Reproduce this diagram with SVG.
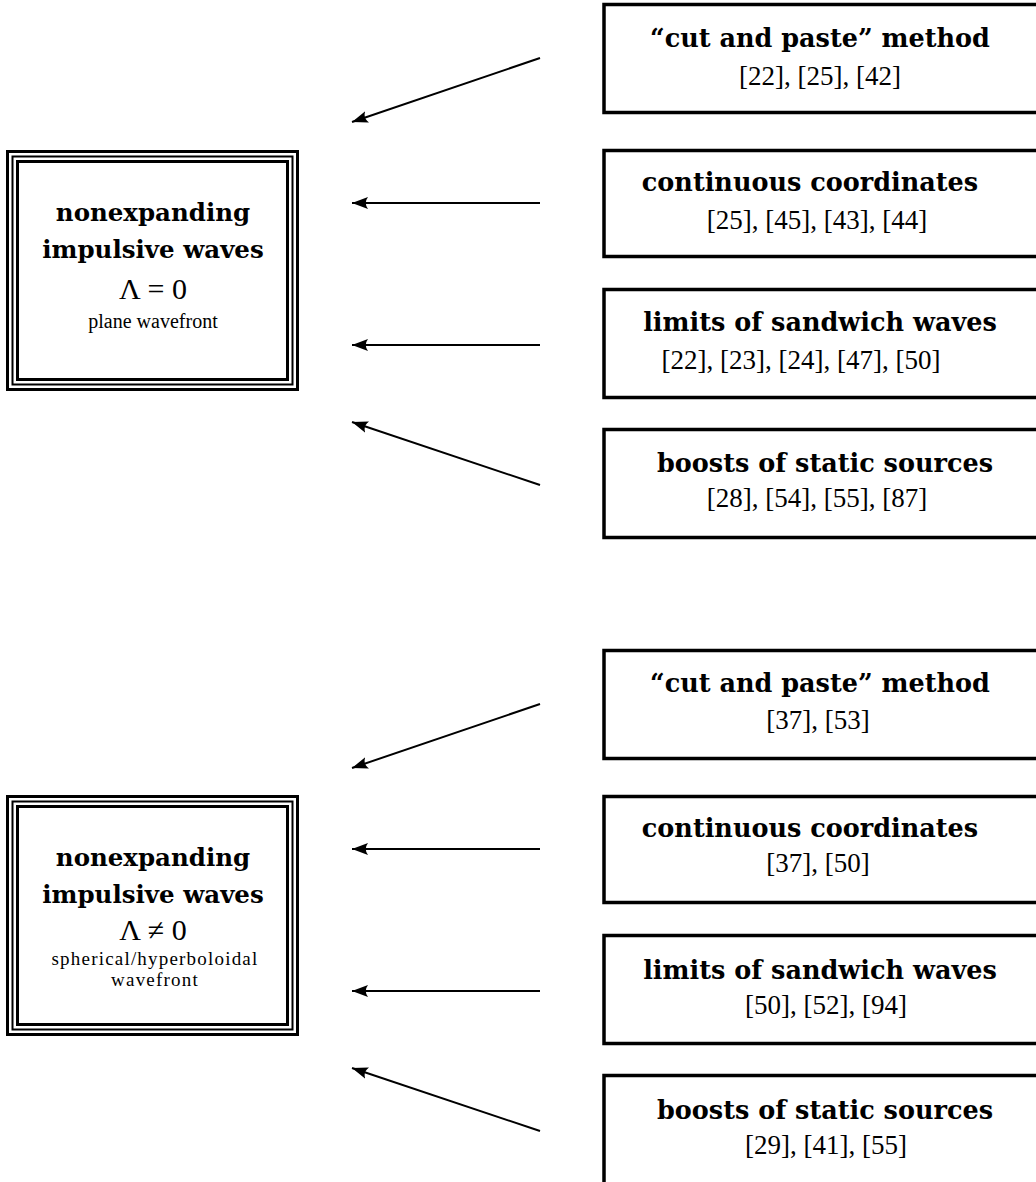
<svg xmlns="http://www.w3.org/2000/svg" width="1036" height="1182" viewBox="0 0 1036 1182">
<style>
.bg{fill:#fff}
.box{fill:none;stroke:#000;stroke-width:3.5}
.o{fill:none;stroke:#000;stroke-width:3}
.m{fill:none;stroke:#000;stroke-width:2}
.h{font-family:"DejaVu Serif","Liberation Serif",serif;font-weight:bold;font-size:25.5px;text-anchor:middle;fill:#000}
.hl{font-family:"DejaVu Serif","Liberation Serif",serif;font-weight:bold;font-size:24.5px;text-anchor:middle;fill:#000}
.r{font-family:"Liberation Serif",serif;font-size:27px;text-anchor:middle;fill:#000}
.l{font-family:"Liberation Serif",serif;font-size:30px;text-anchor:middle;fill:#000}
.s{font-family:"Liberation Serif",serif;font-size:20px;text-anchor:middle;fill:#000}
.ss{font-family:"Liberation Serif",serif;font-size:19px;letter-spacing:1.2px;text-anchor:middle;fill:#000}
.ar{fill:none;stroke:#000;stroke-width:2;marker-end:url(#ah)}
</style>
<defs>
<marker id="ah" markerUnits="userSpaceOnUse" markerWidth="20" markerHeight="14" viewBox="-16 -7 20 14" refX="0" refY="0" orient="auto">
<path d="M0,0 L-16,-6 Q-11.5,0 -16,6 Z" fill="#000"/>
</marker>
</defs>
<rect class="bg" x="0" y="0" width="1036" height="1182"/>

<g id="main-top">
<rect class="o" x="7.5" y="151.5" width="290" height="238"/>
<rect class="m" x="12.5" y="156.5" width="280" height="228"/>
<rect class="o" x="17.5" y="161.5" width="270" height="218"/>
<text class="hl" x="153" y="221">nonexpanding</text>
<text class="hl" x="153" y="258">impulsive waves</text>
<text class="l" x="153" y="299">Λ = 0</text>
<text class="s" x="153" y="328">plane wavefront</text>
</g>

<g id="main-bottom">
<rect class="o" x="7.5" y="796.5" width="290" height="238"/>
<rect class="m" x="12.5" y="801.5" width="280" height="228"/>
<rect class="o" x="17.5" y="806.5" width="270" height="218"/>
<text class="hl" x="153" y="866">nonexpanding</text>
<text class="hl" x="153" y="903">impulsive waves</text>
<text class="l" x="153" y="940">Λ ≠ 0</text>
<text class="ss" x="155" y="964.5">spherical/hyperboloidal</text>
<text class="ss" x="155" y="986">wavefront</text>
</g>

<g id="t1">
<rect class="box" x="604" y="4.5" width="440" height="108"/>
<text class="h" x="820" y="47">“cut and paste” method</text>
<text class="r" x="820" y="85">[22], [25], [42]</text>
</g>
<g id="t2">
<rect class="box" x="604" y="150.5" width="440" height="106"/>
<text class="h" x="810" y="191">continuous coordinates</text>
<text class="r" x="817" y="229">[25], [45], [43], [44]</text>
</g>
<g id="t3">
<rect class="box" x="604" y="289.5" width="440" height="108"/>
<text class="h" x="820" y="331">limits of sandwich waves</text>
<text class="r" x="801" y="369">[22], [23], [24], [47], [50]</text>
</g>
<g id="t4">
<rect class="box" x="604" y="429.5" width="440" height="108"/>
<text class="h" x="825" y="472">boosts of static sources</text>
<text class="r" x="817" y="507">[28], [54], [55], [87]</text>
</g>

<g id="b1">
<rect class="box" x="604" y="650.5" width="440" height="108"/>
<text class="h" x="820" y="692">“cut and paste” method</text>
<text class="r" x="818" y="729">[37], [53]</text>
</g>
<g id="b2">
<rect class="box" x="604" y="796.5" width="440" height="106"/>
<text class="h" x="810" y="837">continuous coordinates</text>
<text class="r" x="818" y="872">[37], [50]</text>
</g>
<g id="b3">
<rect class="box" x="604" y="935.5" width="440" height="108"/>
<text class="h" x="820" y="979">limits of sandwich waves</text>
<text class="r" x="826" y="1014">[50], [52], [94]</text>
</g>
<g id="b4">
<rect class="box" x="604" y="1075.5" width="440" height="120"/>
<text class="h" x="825" y="1119">boosts of static sources</text>
<text class="r" x="826" y="1154">[29], [41], [55]</text>
</g>

<g id="connectors">
<line class="ar" x1="540" y1="58" x2="352" y2="122"/>
<line class="ar" x1="540" y1="203" x2="352" y2="203"/>
<line class="ar" x1="540" y1="345" x2="352" y2="345"/>
<line class="ar" x1="540" y1="485" x2="352" y2="422"/>
<line class="ar" x1="540" y1="704" x2="352" y2="768"/>
<line class="ar" x1="540" y1="849" x2="352" y2="849"/>
<line class="ar" x1="540" y1="991" x2="352" y2="991"/>
<line class="ar" x1="540" y1="1131" x2="352" y2="1068"/>
</g>
</svg>
